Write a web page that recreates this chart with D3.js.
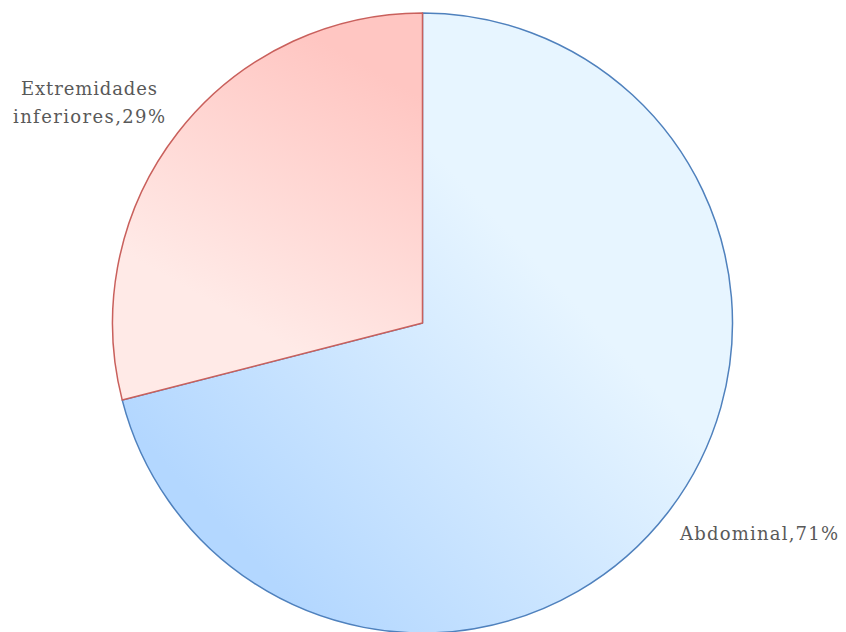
<!DOCTYPE html>
<html>
<head>
<meta charset="utf-8">
<script src="https://cdn.jsdelivr.net/npm/d3@7"></script>
<style>
  html, body { margin: 0; padding: 0; background: #fff; }
  svg { display: block; }
</style>
</head>
<body>
<svg id="chart" width="846" height="632"></svg>
<script>
// Distribution by location
const categories = ["Abdominal", "Extremidades inferiores"];
const percents = [71, 29];
const labelLines = [["Abdominal,71%"], ["Extremidades", "inferiores,29%"]];

const strokeColors = ["#4f81bd", "#c9605c"];

const svg = d3.select("#chart");
const cx = 422.5, cy = 323, r = 310;

const defs = svg.append("defs");
const gBlue = defs.append("linearGradient").attr("id", "gradBlue")
  .attr("gradientUnits", "userSpaceOnUse")
  .attr("x1", 170).attr("y1", 600).attr("x2", 470).attr("y2", 320);
gBlue.append("stop").attr("offset", 0).attr("stop-color", "#b3d7ff");
gBlue.append("stop").attr("offset", 1).attr("stop-color", "#e7f5ff");

const gRed = defs.append("linearGradient").attr("id", "gradRed")
  .attr("gradientUnits", "userSpaceOnUse")
  .attr("x1", 420).attr("y1", 15).attr("x2", 280).attr("y2", 260);
gRed.append("stop").attr("offset", 0).attr("stop-color", "#ffc6c2");
gRed.append("stop").attr("offset", 1).attr("stop-color", "#ffeae7");

const fills = ["url(#gradBlue)", "url(#gradRed)"];

const pie = d3.pie().sort(null).value(d => d);
const arcs = pie(percents);
const arc = d3.arc().innerRadius(0).outerRadius(r);

const g = svg.append("g").attr("transform", `translate(${cx},${cy})`);
g.selectAll("path.slice")
  .data(arcs)
  .join("path")
  .attr("class", "slice")
  .attr("d", arc)
  .attr("fill", (d, i) => fills[i])
  .attr("stroke", (d, i) => strokeColors[i])
  .attr("stroke-width", 1.5)
  .attr("stroke-linejoin", "round");

// Labels
const labelPos = [
  { x: 759, y: 540, widths: [158] },
  { x: 89, y: 95, widths: [136, 152] }
];
const font = "'DejaVu Serif', 'Liberation Serif', serif";
labelLines.forEach((lines, i) => {
  lines.forEach((ln, k) => {
    svg.append("text")
      .attr("x", labelPos[i].x)
      .attr("y", labelPos[i].y + k * 28)
      .attr("text-anchor", "middle")
      .attr("font-family", font)
      .attr("font-size", 18)
      .attr("fill", "#595959")
      .attr("textLength", labelPos[i].widths[k])
      .attr("lengthAdjust", "spacing")
      .text(ln);
  });
});
</script>
</body>
</html>
